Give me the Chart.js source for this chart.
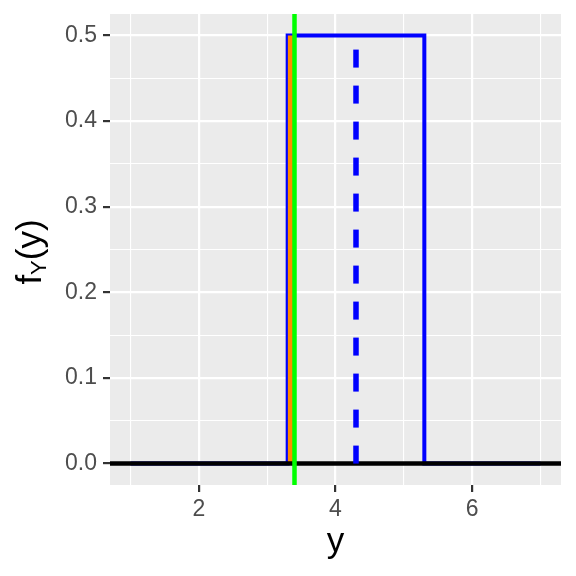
<!DOCTYPE html>
<html>
<head>
<meta charset="utf-8">
<script src="https://cdn.jsdelivr.net/npm/chart.js@4.4.1/dist/chart.umd.min.js"></script>
<style>
  body { margin: 0; background: #fff; }
  canvas { display: block; }
</style>
</head>
<body>
<canvas id="chart" width="576" height="576"></canvas>
<script>
// axis limits and breaks
const xMin = 0.7, xMax = 7.3;
const yMin = -0.025, yMax = 0.525;
const xTicks = [1, 2, 3, 4, 5, 6, 7];
const xMajor = [2, 4, 6];
const yTicks = [0, 0.05, 0.1, 0.15, 0.2, 0.25, 0.3, 0.35, 0.4, 0.45, 0.5];
const yMajor = [0, 0.1, 0.2, 0.3, 0.4, 0.5];

// uniform density on [3.3, 5.3]
const densityX = [1, 3.3, 3.3, 5.3, 5.3, 7];
const densityY = [0, 0, 0.5, 0.5, 0, 0];

// shaded area up to the observed value
const shadeX = [3.3, 3.3, 3.4, 3.4];
const shadeY = [0, 0.5, 0.5, 0];

const observed = 3.4;
const meanX = [4.3, 4.3];
const meanY = [0, 0.5];

const FONT = "'Liberation Sans', Arial, Helvetica, sans-serif";

function pts(xs, ys) {
  return xs.map((x, i) => ({ x: x, y: ys[i] }));
}

function isMajor(list, v) {
  return list.some((m) => Math.abs(m - v) < 1e-9);
}

const panelBg = {
  id: "panelBg",
  beforeDraw(chart) {
    const { ctx, chartArea: a } = chart;
    ctx.save();
    ctx.fillStyle = "#EBEBEB";
    ctx.fillRect(a.left, a.top, a.right - a.left, a.bottom - a.top);
    ctx.restore();
  },
};

// axis titles (y title needs a subscript)
const axisTitles = {
  id: "axisTitles",
  afterDraw(chart) {
    const { ctx, chartArea: a } = chart;
    ctx.save();
    ctx.fillStyle = "#000";
    ctx.textBaseline = "alphabetic";

    ctx.font = "35px " + FONT;
    ctx.textAlign = "center";
    ctx.fillText("y", (a.left + a.right) / 2, 552);

    ctx.translate(41, 252);
    ctx.rotate(-Math.PI / 2);
    ctx.textAlign = "left";
    ctx.font = "35px " + FONT;
    const wf = ctx.measureText("f").width;
    ctx.font = "22px " + FONT;
    const wY = ctx.measureText("Y").width;
    ctx.font = "35px " + FONT;
    const wp = ctx.measureText("(y)").width;
    let x = -(wf + wY + wp) / 2;
    ctx.fillText("f", x, 0);
    x += wf;
    ctx.font = "22px " + FONT;
    ctx.fillText("Y", x, 5);
    x += wY;
    ctx.font = "35px " + FONT;
    ctx.fillText("(y)", x, 0);
    ctx.restore();
  },
};

const line = (data, color, width, order, extra) =>
  Object.assign(
    {
      data: data,
      borderColor: color,
      borderWidth: width,
      pointRadius: 0,
      tension: 0,
      fill: false,
      order: order,
    },
    extra || {}
  );

new Chart(document.getElementById("chart"), {
  type: "line",
  data: {
    datasets: [
      line(pts(meanX, meanY), "#0000FF", 5.5, 1, { borderDash: [18, 18] }),
      line(pts([observed, observed], [yMin, yMax]), "#00FF00", 4.5, 2, { clip: 0 }),
      line(pts([xMin, xMax], [0, 0]), "#000000", 4.5, 3, { clip: 0 }),
      line(pts(shadeX, shadeY), "#FF8C00", 0, 4, {
        fill: "origin",
        backgroundColor: "#FF8C00",
      }),
      line(pts(densityX, densityY), "#0000FF", 4, 5),
    ],
  },
  plugins: [panelBg, axisTitles],
  options: {
    responsive: false,
    animation: false,
    layout: { padding: { top: 14, right: 15, left: 0, bottom: 0 } },
    plugins: { legend: { display: false }, tooltip: { enabled: false } },
    scales: {
      x: {
        type: "linear",
        min: xMin,
        max: xMax,
        afterBuildTicks: (s) => {
          s.ticks = xTicks.map((v) => ({ value: v }));
        },
        afterFit: (s) => {
          s.height = 91;
          s.paddingLeft = 0;
          s.paddingRight = 0;
        },
        border: { display: false },
        grid: {
          color: "#FFFFFF",
          lineWidth: (c) => (isMajor(xMajor, c.tick.value) ? 2.2 : 1.1),
          tickColor: (c) => (isMajor(xMajor, c.tick.value) ? "#333333" : "rgba(0,0,0,0)"),
          tickWidth: 2.2,
          tickLength: 7,
        },
        ticks: {
          autoSkip: false,
          maxRotation: 0,
          padding: 4,
          color: "#4D4D4D",
          font: { family: FONT, size: 23 },
          callback: (v) => (isMajor(xMajor, v) ? String(v) : ""),
        },
      },
      y: {
        type: "linear",
        min: yMin,
        max: yMax,
        afterBuildTicks: (s) => {
          s.ticks = yTicks.map((v) => ({ value: v }));
        },
        afterFit: (s) => {
          s.width = 110;
          s.paddingTop = 0;
          s.paddingBottom = 0;
        },
        border: { display: false },
        grid: {
          color: "#FFFFFF",
          lineWidth: (c) => (isMajor(yMajor, c.tick.value) ? 2.2 : 1.1),
          tickColor: (c) => (isMajor(yMajor, c.tick.value) ? "#333333" : "rgba(0,0,0,0)"),
          tickWidth: 2.2,
          tickLength: 7,
        },
        ticks: {
          autoSkip: false,
          padding: 6,
          color: "#4D4D4D",
          font: { family: FONT, size: 23 },
          callback: (v) => (isMajor(yMajor, v) ? v.toFixed(1) : ""),
        },
      },
    },
  },
});
</script>
</body>
</html>
